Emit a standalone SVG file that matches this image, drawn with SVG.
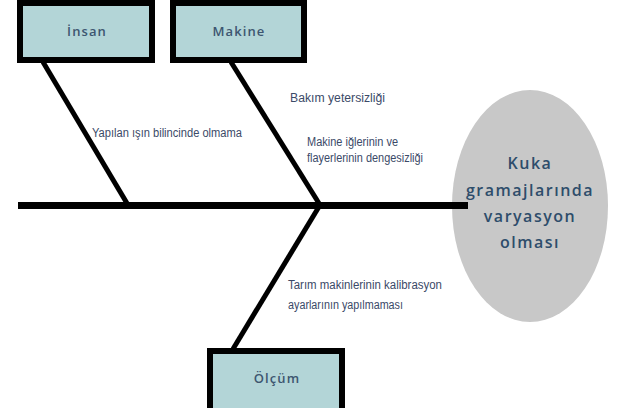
<svg xmlns="http://www.w3.org/2000/svg" width="618" height="408" viewBox="0 0 618 408">
  <style>
    .cat rect { fill: #b3d5d7; stroke: #000; stroke-width: 6; }
    .cat text { font-family: "Open Sans", "Liberation Sans", sans-serif; font-size: 13px; font-weight: 600; fill: #3d5670; letter-spacing: 1.1px; text-anchor: middle; }
    .bone { stroke: #000; stroke-width: 5; fill: none; stroke-linecap: butt; }
    .spine { stroke: #000; stroke-width: 7; fill: none; }
    .cause { font-family: "Liberation Sans", "Noto Sans", sans-serif; font-size: 12.5px; fill: #3b4a68; }
    .effect ellipse { fill: #c8c8c8; }
    .effect text { font-family: "Open Sans", "Liberation Sans", sans-serif; font-size: 16px; font-weight: 600; fill: #2e4d6b; letter-spacing: 1.5px; text-anchor: middle; }
  </style>

  <!-- effect (fish head) -->
  <g id="effect" class="effect">
    <ellipse cx="530" cy="206" rx="78" ry="116"/>
    <text x="530" y="169">Kuka</text>
    <text x="530" y="196">gramajlarında</text>
    <text x="530" y="222">varyasyon</text>
    <text x="530" y="248">olması</text>
  </g>

  <!-- spine and category bones -->
  <g id="connectors">
    <line class="spine" x1="18" y1="205.5" x2="468" y2="205.5"/>
    <line class="bone" x1="43" y1="62" x2="128" y2="205"/>
    <line class="bone" x1="231" y1="62" x2="320" y2="205"/>
    <line class="bone" x1="320" y1="205" x2="233" y2="349"/>
  </g>

  <!-- categories -->
  <g id="insan" class="cat">
    <rect x="20" y="3" width="132" height="57"/>
    <text x="87" y="36">İnsan</text>
  </g>
  <g id="makine" class="cat">
    <rect x="173" y="3" width="131" height="57"/>
    <text x="239" y="36">Makine</text>
  </g>
  <g id="olcum" class="cat">
    <rect x="210" y="351" width="132" height="62"/>
    <text x="277" y="383">Ölçüm</text>
  </g>

  <!-- causes -->
  <g id="cause-insan">
    <text class="cause" x="92" y="137" textLength="150" lengthAdjust="spacingAndGlyphs">Yapılan ışın bilincinde olmama</text>
  </g>
  <g id="cause-makine">
    <text class="cause" x="290" y="102" textLength="95" lengthAdjust="spacingAndGlyphs">Bakım yetersizliği</text>
    <text class="cause" x="307" y="146" textLength="91" lengthAdjust="spacingAndGlyphs">Makine iğlerinin ve</text>
    <text class="cause" x="307" y="162" textLength="116" lengthAdjust="spacingAndGlyphs">flayerlerinin dengesizliği</text>
  </g>
  <g id="cause-olcum">
    <text class="cause" x="288" y="289" textLength="154" lengthAdjust="spacingAndGlyphs">Tarım makinlerinin kalibrasyon</text>
    <text class="cause" x="288" y="309" textLength="115" lengthAdjust="spacingAndGlyphs">ayarlarının yapılmaması</text>
  </g>
</svg>
